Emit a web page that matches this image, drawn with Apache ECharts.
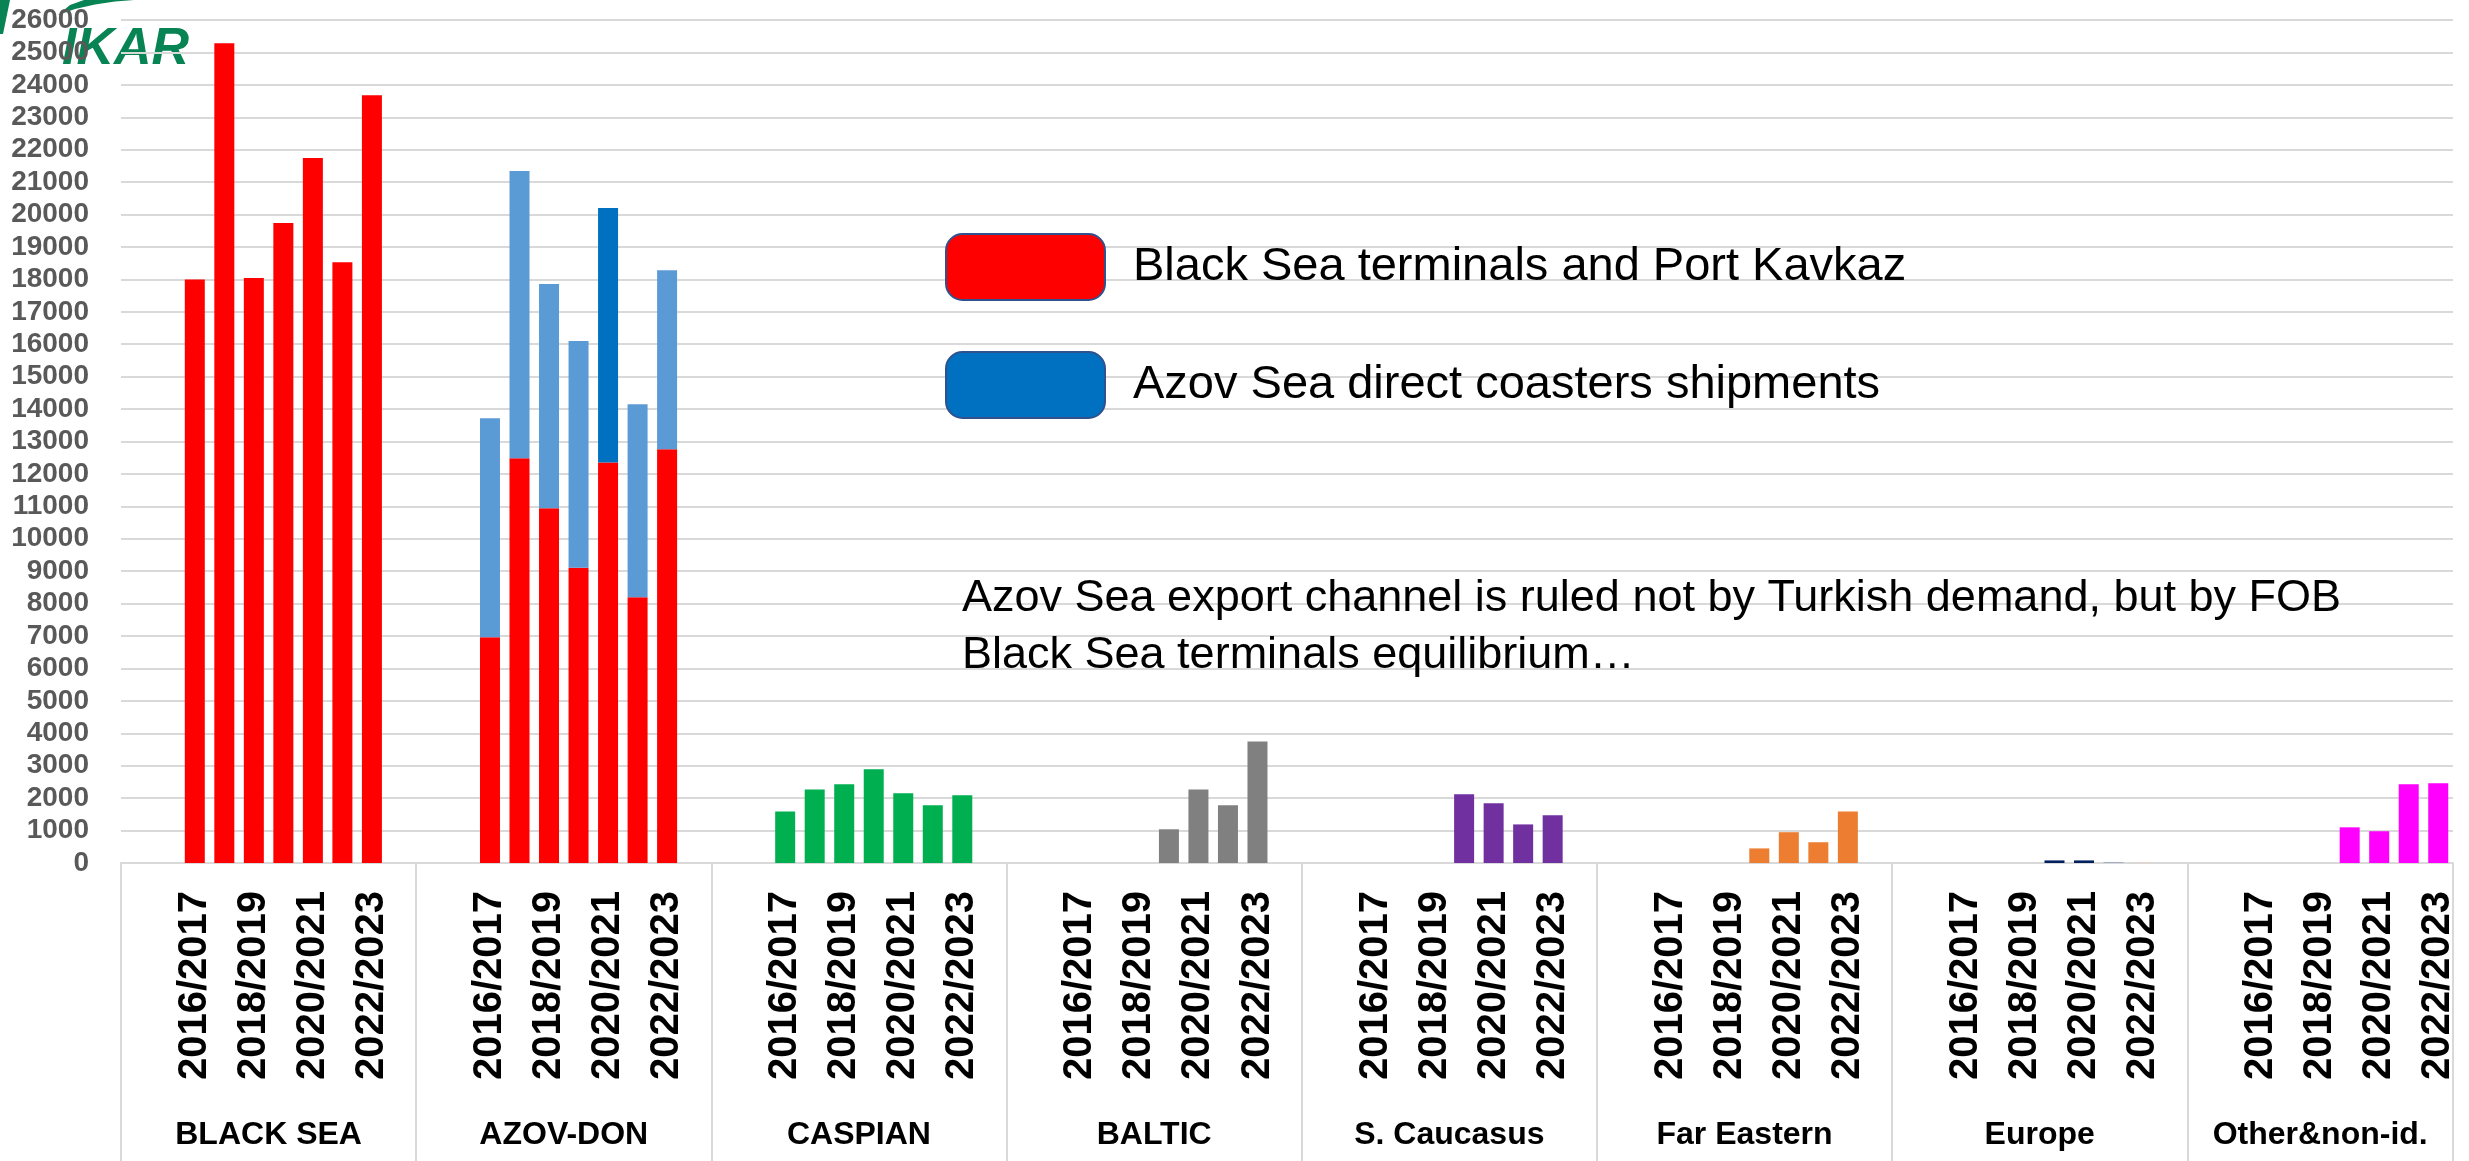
<!DOCTYPE html>
<html>
<head>
<meta charset="utf-8">
<title>Grain export by region</title>
<script src="https://cdn.jsdelivr.net/npm/echarts@6.0.0/dist/echarts.min.js"></script>
<style>
html,body{margin:0;padding:0;background:#fff;}
#container{width:2469px;height:1161px;}
</style>
</head>
<body>
<div id="container"></div>
<script>
var seasons = ['2016/2017','2017/2018','2018/2019','2019/2020','2020/2021','2021/2022','2022/2023'];
var regions = ['BLACK SEA','AZOV-DON','CASPIAN','BALTIC','S. Caucasus','Far Eastern','Europe','Other&non-id.'];
var yMax = 26000, yStep = 1000;

var blackSea   = [18000,25280,18040,19740,21740,18530,23680];
var azovRed    = [6960,12480,10940,9110,12350,8200,12760];
var azovBlue   = [6760,8860,6920,6990,7850,5950,5520];
var caspian    = [1590,2270,2430,2890,2150,1780,2090];
var baltic     = [null,null,null,1040,2270,1780,3750];
var sCaucasus  = [null,null,null,2120,1840,1190,1470];
var farEastern = [null,null,null,450,950,640,1590];
var europe     = [null,null,null,80,80,20,10];
var other      = [null,null,null,1100,980,2430,2460];

var legendNames = ['Black Sea terminals and Port Kavkaz','Azov Sea direct coasters shipments'];
var note = 'Azov Sea export channel is ruled not by Turkish demand, but by FOB\nBlack Sea terminals equilibrium\u2026';

// category slots: 2 empty before each region, 1 after (not after the last one)
var categories = [], groupStart = [];
regions.forEach(function(r, g){
	groupStart.push(categories.length);
	categories.push(r+'#_a', r+'#_b');
	seasons.forEach(function(s){ categories.push(r+'#'+s); });
	if(g < regions.length-1) categories.push(r+'#_c');
});
groupStart.push(categories.length);

var groupCenters = {}, groupEdges = [];
regions.forEach(function(r, g){
	groupCenters[(groupStart[g]+groupStart[g+1])/2] = r;
});
groupStart.forEach(function(v){ groupEdges.push(v); });

function column(parts){
	var arr = categories.map(function(){ return null; });
	parts.forEach(function(p){
		p[1].forEach(function(v, i){
			var idx = categories.indexOf(p[0]+'#'+seasons[i]);
			if(v !== null) arr[idx] = (p[2] ? p[2](v, i) : v);
		});
	});
	return arr;
}

var sans = 'Liberation Sans, Arial, sans-serif';
var europeColors = ['#002060','#002060','#8497B0','#F8CBAD'];

function bar(name, color, data){
	return {
		name: name, type: 'bar', stack: 'all', barWidth: 20,
		itemStyle: {color: color},
		data: data
	};
}

var myChart = echarts.init(document.getElementById('container'));
var option = {
	animation: false,
	backgroundColor: '#fff',
	grid: {left: 121, right: 16, top: 20, bottom: 298},
	legend: {
		data: legendNames,
		orient: 'vertical',
		left: 940, top: 228,
		itemWidth: 159, itemHeight: 66, itemGap: 50,
		icon: 'roundRect',
		itemStyle: {borderColor: '#2F528F', borderWidth: 2},
		textStyle: {fontFamily: sans, fontSize: 47, color: '#000', padding: [0,0,0,23]}
	},
	graphic: [
		{type: 'polygon', z: 0, shape: {points: [[0,0],[10,0],[3,34],[0,34]]}, style: {fill: '#078354'}},
		{type: 'polygon', z: 0, shape: {points: [[58,15],[75,9],[95,4.5],[115,1.5],[134,0],[84,0],[70,5]]}, style: {fill: '#078354'}},
		{type: 'text', z: 0, x: 62, y: 50, style: {text: 'IKAR', font: 'italic 900 52px ' + sans, fill: '#078354', verticalAlign: 'middle'}},
		{type: 'text', z: 5, x: 962, y: 570, style: {text: note, font: '45px ' + sans, fill: '#000', lineHeight: 57}}
	],
	xAxis: [{
		type: 'category',
		data: categories,
		axisLine: {lineStyle: {color: '#d9d9d9', width: 2}},
		axisTick: {show: false},
		axisLabel: {
			rotate: 90, margin: 28,
			fontFamily: sans, fontWeight: 'bold', fontSize: 40, color: '#000',
			interval: function(i, v){
				var s = v.split('#')[1];
				return seasons.indexOf(s) % 2 === 0;
			},
			formatter: function(v){ return v.split('#')[1]; }
		}
	},{
		type: 'value', min: 0, max: categories.length, position: 'bottom',
		axisLine: {show: false},
		splitLine: {show: false},
		axisTick: {show: true, customValues: groupEdges, length: 300, lineStyle: {color: '#d9d9d9', width: 2}},
		axisLabel: {
			customValues: Object.keys(groupCenters).map(Number),
			margin: 256,
			fontFamily: sans, fontWeight: 'bold', fontSize: 32, color: '#000',
			formatter: function(v){ return groupCenters[v] || ''; }
		}
	}],
	yAxis: {
		type: 'value', min: 0, max: yMax, interval: yStep,
		axisLine: {show: false},
		axisTick: {show: false},
		splitLine: {lineStyle: {color: '#d9d9d9', width: 2}},
		axisLabel: {
			margin: 32, fontFamily: sans, fontWeight: 'bold', fontSize: 28, color: '#595959',
			formatter: function(v){ return String(v); }
		}
	},
	series: [
		bar(legendNames[0], '#FF0000', column([['BLACK SEA', blackSea], ['AZOV-DON', azovRed]])),
		bar(legendNames[1], '#0070C0', column([['AZOV-DON', azovBlue, function(v, i){
			return {value: v, itemStyle: {color: seasons[i] === '2020/2021' ? '#0070C0' : '#5B9BD5'}};
		}]])),
		bar('Caspian', '#00B050', column([['CASPIAN', caspian]])),
		bar('Baltic', '#808080', column([['BALTIC', baltic]])),
		bar('S. Caucasus', '#7030A0', column([['S. Caucasus', sCaucasus]])),
		bar('Far Eastern', '#ED7D31', column([['Far Eastern', farEastern]])),
		bar('Europe', '#002060', column([['Europe', europe, function(v, i){
			return {value: v, itemStyle: {color: europeColors[i-3]}};
		}]])),
		bar('Other', '#FF00FF', column([['Other&non-id.', other]]))
	]
};
myChart.setOption(option);
</script>
</body>
</html>
